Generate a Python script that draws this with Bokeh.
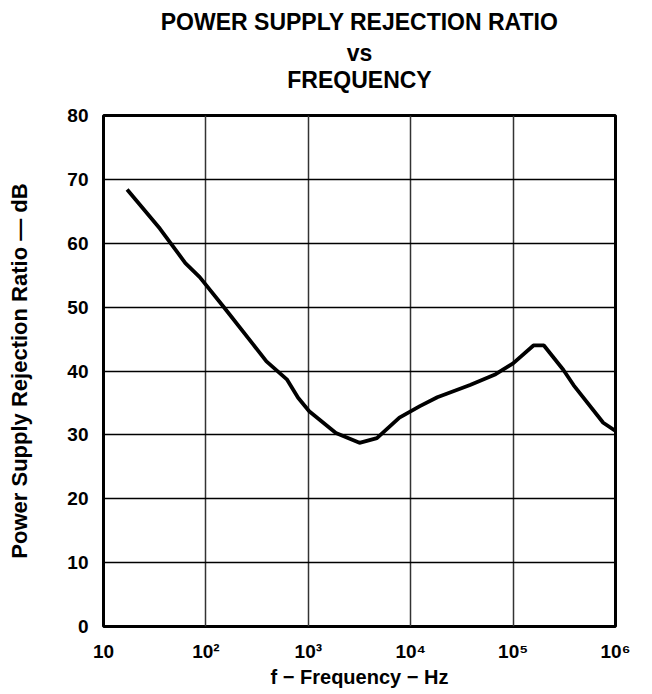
from bokeh.plotting import figure
from bokeh.models import FixedTicker, Title, Range1d
from bokeh.embed import file_html
from bokeh.resources import INLINE

# Data
freq_hz = [17, 35.5, 63, 87, 148, 288, 390, 617, 795, 1020, 1860, 3160, 4680,
           7760, 12300, 18200, 38000, 67600, 100000, 158000, 200000, 309000,
           389000, 759000, 1000000]
psrr_db = [68.4, 62.3, 56.9, 54.7, 50.1, 44.2, 41.5, 38.7, 35.8, 33.7, 30.3,
           28.75, 29.5, 32.7, 34.5, 35.9, 37.8, 39.5, 41.2, 44.0, 44.0, 40.2,
           37.8, 31.9, 30.6]

x_ticks = [10, 100, 1000, 10000, 100000, 1000000]
x_tick_labels = ["10", "10²", "10³", "10⁴", "10⁵", "10⁶"]
y_ticks = [0, 10, 20, 30, 40, 50, 60, 70, 80]
title_lines = ["POWER SUPPLY REJECTION RATIO", "vs", "FREQUENCY"]

FONT = "Liberation Sans"

p = figure(width=645, height=692, x_axis_type="log",
           x_range=Range1d(10, 1e6), y_range=Range1d(0, 80),
           output_backend="svg", toolbar_location=None,
           min_border_left=103, min_border_right=30,
           min_border_top=115, min_border_bottom=66)

def title_style(t):
    t.align = "center"
    t.text_font = FONT
    t.text_font_size = "23px"
    t.text_font_style = "bold"
    t.text_color = "black"
    return t

# outermost heading line
title_style(p.title)
p.title.text = title_lines[0]
p.title.standoff = 7
# blank spacer panel between the heading and the frame
p.add_layout(Title(text=" ", text_font_size="10px", standoff=10), "above")
# remaining heading lines, stacked outward from the frame
p.add_layout(title_style(Title(text=title_lines[2], standoff=0)), "above")
p.add_layout(title_style(Title(text=title_lines[1], standoff=-2)), "above")

p.line(freq_hz, psrr_db, line_color="black", line_width=3.8)

p.xaxis.ticker = FixedTicker(ticks=x_ticks)
p.xaxis.major_label_overrides = {float(k): v for k, v in zip(x_ticks, x_tick_labels)}
p.yaxis.ticker = FixedTicker(ticks=y_ticks)

for ax in (p.xaxis, p.yaxis):
    ax.axis_line_color = None
    ax.major_tick_line_color = None
    ax.minor_tick_line_color = None
    ax.major_label_text_font = FONT
    ax.major_label_text_font_size = "19px"
    ax.major_label_text_font_style = "bold"
    ax.major_label_text_color = "black"
    ax.axis_label_text_font = FONT
    ax.axis_label_text_font_style = "bold"
    ax.axis_label_text_color = "black"

p.xaxis.axis_label_text_font_size = "20px"
p.yaxis.axis_label_text_font_size = "22px"
p.xaxis.axis_label = "f − Frequency − Hz"
p.yaxis.axis_label = "Power Supply Rejection Ratio — dB"
p.xaxis.major_label_standoff = 8
p.yaxis.major_label_standoff = 9
p.xaxis.axis_label_standoff = 1
p.yaxis.axis_label_standoff = 32

p.xgrid.ticker = FixedTicker(ticks=x_ticks)
p.ygrid.ticker = FixedTicker(ticks=y_ticks)
p.xgrid.grid_line_color = "#333333"
p.ygrid.grid_line_color = "black"
p.xgrid.grid_line_width = 1.5
p.ygrid.grid_line_width = 1.5
p.xgrid.grid_line_alpha = 1
p.ygrid.grid_line_alpha = 1

p.outline_line_color = "black"
p.outline_line_width = 3
p.outline_line_alpha = 1
p.background_fill_color = "white"
p.border_fill_color = "white"

open("out.html", "w").write(file_html(p, INLINE))
